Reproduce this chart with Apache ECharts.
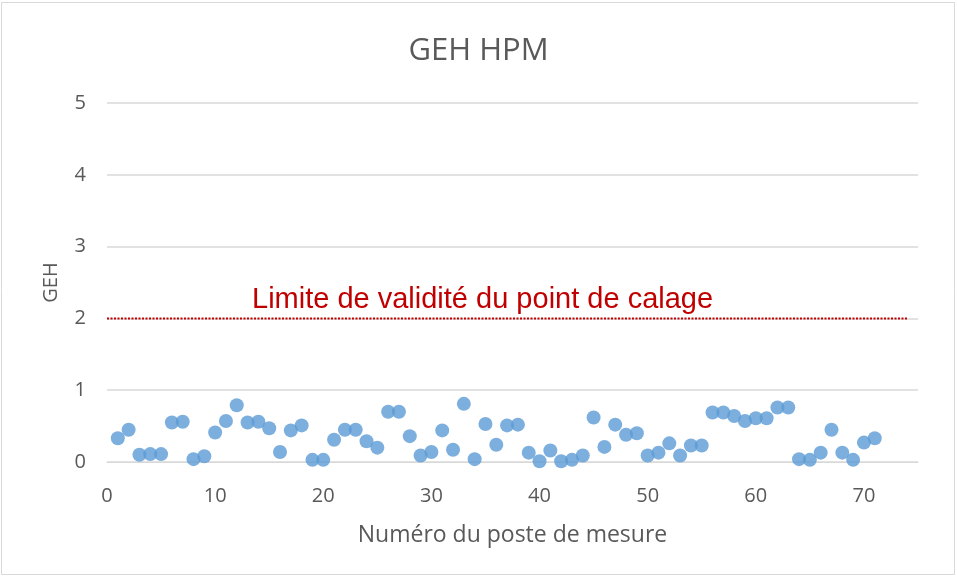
<!DOCTYPE html>
<html>
<head>
<meta charset="utf-8">
<style>
  html, body { margin: 0; padding: 0; background: #ffffff; }
  #chart { width: 957px; height: 577px; }
</style>
<script src="https://cdn.jsdelivr.net/npm/echarts@6/dist/echarts.min.js"></script>
</head>
<body>
<div id="chart"></div>
<script>
// Measurement station numbers and their GEH values (evening peak hour)
const stations = [
  1, 2, 3, 4, 5, 6, 7, 8, 9, 10,
  11, 12, 13, 14, 15, 16, 17, 18, 19, 20,
  21, 22, 23, 24, 25, 26, 27, 28, 29, 30,
  31, 32, 33, 34, 35, 36, 37, 38, 39, 40,
  41, 42, 43, 44, 45, 46, 47, 48, 49, 50,
  51, 52, 53, 54, 55, 56, 57, 58, 59, 60,
  61, 62, 63, 64, 65, 66, 67, 68, 69, 70, 71
];
const gehValues = [
  0.33, 0.45, 0.10, 0.11, 0.11, 0.55, 0.56, 0.04, 0.08, 0.41,
  0.57, 0.79, 0.55, 0.56, 0.47, 0.14, 0.44, 0.51, 0.03, 0.03,
  0.31, 0.45, 0.45, 0.29, 0.20, 0.70, 0.70, 0.36, 0.09, 0.14,
  0.44, 0.17, 0.81, 0.04, 0.53, 0.24, 0.51, 0.52, 0.13, 0.01,
  0.16, 0.01, 0.03, 0.09, 0.62, 0.21, 0.52, 0.38, 0.40, 0.09,
  0.13, 0.26, 0.09, 0.23, 0.23, 0.69, 0.69, 0.64, 0.57, 0.61,
  0.61, 0.76, 0.76, 0.04, 0.03, 0.13, 0.45, 0.13, 0.03, 0.27, 0.33
];

// Calibration validity threshold line
const limitX = [0, 74];
const limitValue = 2;
const limitText = 'Limite de validité du point de calage';

const chartTitle = 'GEH HPM';
const xAxisName = 'Numéro du poste de mesure';
const yAxisName = 'GEH';

const points = stations.map((s, i) => [s, gehValues[i]]);
const limitPoints = limitX.map(x => [x, limitValue]);

const textColor = '#595959';
const gridColor = '#d9d9d9';
const font = '"Open Sans", "Noto Sans", sans-serif';

const chart = echarts.init(document.getElementById('chart'), null, { renderer: 'canvas' });

chart.setOption({
  animation: false,
  backgroundColor: '#ffffff',
  title: {
    text: chartTitle,
    left: 'center',
    top: 31,
    textStyle: { color: textColor, fontFamily: font, fontSize: 31, fontWeight: 'normal' }
  },
  graphic: [
    {
      type: 'rect',
      shape: { x: 1.5, y: 2.5, width: 953, height: 572 },
      style: { fill: 'none', stroke: gridColor, lineWidth: 1 },
      silent: true,
      z: -1
    },
    {
      type: 'text',
      left: 252,
      top: 285,
      style: {
        text: limitText,
        fill: '#c00000',
        font: '29px "Liberation Sans", Arial, sans-serif'
      },
      silent: true
    }
  ],
  grid: { left: 107, right: 39, top: 103, bottom: 115 },
  xAxis: {
    type: 'value',
    min: 0,
    max: 75,
    interval: 10,
    name: xAxisName,
    nameLocation: 'middle',
    nameGap: 62,
    nameTextStyle: { color: textColor, fontFamily: font, fontSize: 23 },
    axisLine: { show: true, lineStyle: { color: gridColor, width: 1 } },
    axisTick: { show: false },
    splitLine: { show: false },
    axisLabel: {
      color: textColor, fontFamily: font, fontSize: 20, margin: 24,
      showMaxLabel: false
    }
  },
  yAxis: {
    type: 'value',
    min: 0,
    max: 5,
    interval: 1,
    name: yAxisName,
    nameLocation: 'middle',
    nameGap: 46,
    nameTextStyle: { color: textColor, fontFamily: font, fontSize: 20 },
    axisLine: { show: false },
    axisTick: { show: false },
    splitLine: { show: true, lineStyle: { color: gridColor, width: 1.5 } },
    axisLabel: { color: textColor, fontFamily: font, fontSize: 20, margin: 21 }
  },
  series: [
    {
      type: 'line',
      data: limitPoints,
      showSymbol: false,
      symbol: 'none',
      lineStyle: { color: '#c00000', width: 2, type: [2, 1.5] },
      silent: true,
      z: 1
    },
    {
      type: 'scatter',
      data: points,
      symbol: 'circle',
      symbolSize: 14,
      itemStyle: { color: '#5b9bd5' },
      z: 3
    }
  ]
});
</script>
</body>
</html>
